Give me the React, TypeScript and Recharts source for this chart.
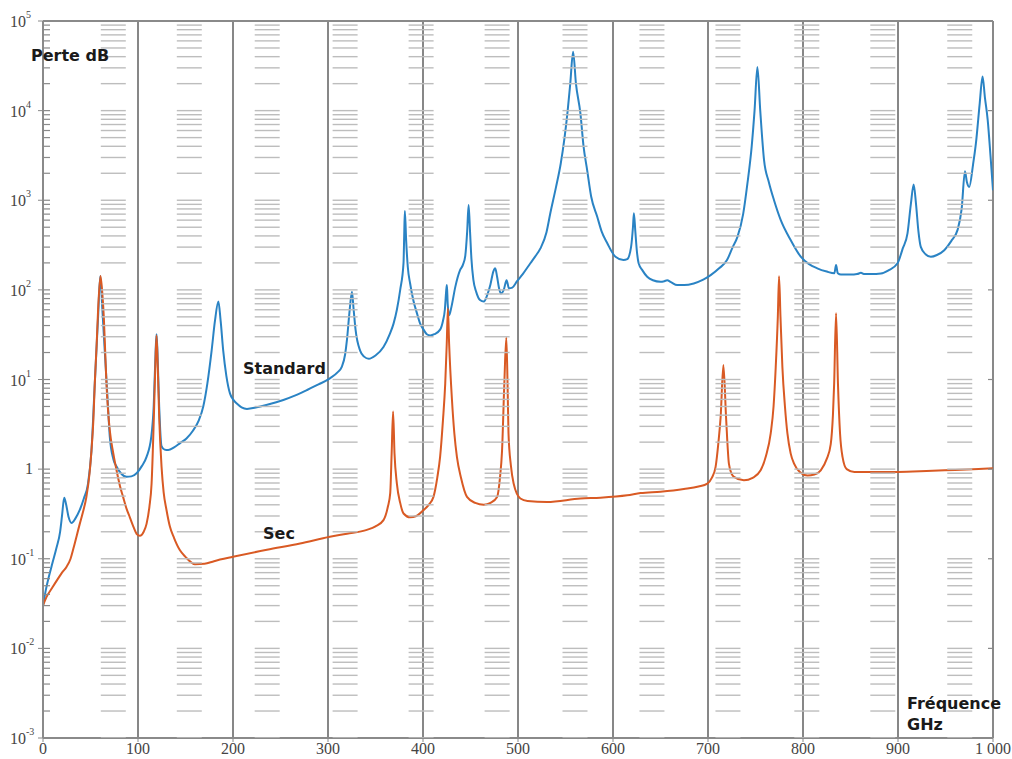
import React from 'react';
import {
  ComposedChart,
  Line,
  Scatter,
  XAxis,
  YAxis,
  CartesianGrid,
  ReferenceLine,
} from 'recharts';

// Frequency (GHz) / attenuation (dB) pairs — standard atmosphere
const standardPoints: [number, number][] = [
  [0, 0.03], [3, 0.045], [6, 0.062], [10, 0.09], [14, 0.13], [18, 0.2], [20, 0.3],
  [22.3, 0.48], [24, 0.42], [27, 0.29], [30, 0.25], [34, 0.28], [38.7, 0.35], [43, 0.47],
  [47.4, 0.69], [51, 1.6], [54.5, 9], [58, 50], [60.3, 143], [62.5, 60], [65, 21],
  [68, 6], [70.3, 2.3], [74, 1.3], [77.4, 1.07], [82, 0.9], [88, 0.82], [93, 0.83],
  [98.5, 0.9], [104, 1.08], [109, 1.37], [114, 2.3], [116.5, 5], [118.5, 20], [119.5, 32],
  [120.5, 20], [122.3, 5], [124.8, 1.8], [128, 1.65], [131.8, 1.63], [138, 1.75],
  [144, 1.94], [151, 2.2], [158, 2.7], [164, 3.5], [168.7, 5], [173, 9], [177.5, 21],
  [181, 45], [184.6, 74], [187, 45], [189.7, 21], [193, 11], [196.8, 7], [200, 6],
  [204, 5.4], [209, 4.9], [214.7, 4.7], [225, 4.9], [235, 5.2], [253, 5.9], [265, 6.6],
  [277.6, 7.6], [290, 8.8], [302, 10.3], [310, 12], [314.5, 13.8], [318, 19], [320, 28],
  [322.5, 55], [325.2, 95], [327, 60], [329, 36], [333.8, 21], [338, 18], [343, 17],
  [350, 18.5], [358.4, 23], [365, 32], [369, 42], [372.5, 60], [376, 100], [379.5, 200],
  [380.2, 400], [380.9, 760], [382.3, 350], [384, 180], [386.5, 117], [390, 75],
  [393.6, 55], [397, 42], [400.6, 36], [404, 32], [407.6, 31], [412, 32], [418, 36],
  [421, 45], [423, 60], [424.5, 100], [425.2, 113], [426, 70], [427.5, 52], [430, 65],
  [434, 108], [439, 166], [442, 190], [444.5, 240], [446.5, 450], [448, 885],
  [449.5, 450], [451, 220], [453, 130], [456, 95], [460, 77], [464, 74], [468, 90],
  [471, 115], [474, 160], [476, 174], [478, 140], [480, 105], [482, 91], [485, 100],
  [488, 128], [490.5, 104], [494, 106], [499, 125], [505, 150], [513, 198], [518, 235],
  [523.6, 290], [530, 440], [534, 715], [540, 1400], [545, 2570], [549, 5000],
  [552, 9300], [555, 20000], [558, 45400], [561, 20000], [565.7, 9300], [569, 4000],
  [572.8, 2170], [577, 1100], [583.4, 655], [588, 450], [594, 331], [602.6, 234],
  [611, 215], [615, 220], [619, 300], [621, 500], [622, 714], [623.5, 450], [625, 280],
  [627, 198], [631, 165], [636, 140], [642, 128], [650, 123], [654, 125], [657, 128],
  [661, 122], [667.6, 113], [675, 113], [685, 118], [695, 130], [702.8, 146], [712, 175],
  [720, 215], [726, 300], [731, 390], [737, 700], [741.5, 1540], [746, 4000],
  [749, 10000], [752, 30700], [755, 10000], [759, 2800], [764, 1600], [769.5, 1000],
  [776.6, 600], [787, 360], [797.6, 235], [806, 195], [815, 174], [825, 160], [833, 153],
  [834.8, 190], [836.6, 153], [840, 148], [850, 148], [857, 150], [861, 155], [864, 150],
  [872, 150], [882, 152], [890, 165], [899.5, 198], [905, 290], [910, 427], [913.5, 900],
  [916.5, 1500], [919, 900], [921.5, 450], [924, 302], [929, 250], [934.6, 234],
  [941, 245], [948.7, 277], [956, 350], [962.8, 470], [967, 800], [970.5, 2100],
  [972.5, 1600], [975, 1410], [979, 2500], [982, 4300], [986, 12000], [989, 24000],
  [991.5, 14000], [994.4, 7900], [997.5, 3000], [1000, 1290],
];

// Frequency (GHz) / attenuation (dB) pairs — dry air
const dryPoints: [number, number][] = [
  [0, 0.03], [3.5, 0.037], [10, 0.048], [15.8, 0.06], [20, 0.07], [24.7, 0.081],
  [29, 0.1], [32, 0.13], [38.7, 0.245], [42, 0.33], [45.7, 0.49], [49, 0.9], [51, 1.6],
  [53, 3.5], [54.5, 9], [56.5, 25], [58, 60], [60.5, 143], [62.5, 90], [64, 50],
  [65.5, 20], [66.8, 9], [68.5, 4.5], [70.3, 2.7], [74, 1.5], [77.4, 0.97], [81, 0.65],
  [84.3, 0.49], [88, 0.36], [91.4, 0.29], [95, 0.23], [98.5, 0.19], [102, 0.18],
  [106, 0.2], [109, 0.245], [112, 0.38], [114.3, 0.69], [116.7, 3.8], [118.3, 15],
  [119.5, 31], [120.7, 15], [122.3, 3.8], [124.8, 1.06], [127, 0.55], [130, 0.35],
  [133.5, 0.23], [138, 0.17], [144, 0.125], [150, 0.105], [160, 0.087], [170, 0.088],
  [180, 0.094], [200, 0.105], [235.7, 0.126], [270.6, 0.148], [302, 0.176], [320, 0.19],
  [340.9, 0.21], [350, 0.23], [358.4, 0.27], [363, 0.38], [365.5, 0.54], [367, 1.5],
  [368.5, 4.4], [370, 1.5], [372.5, 0.69], [376, 0.42], [379.5, 0.32], [386.5, 0.29],
  [393, 0.3], [400.6, 0.35], [406, 0.4], [411, 0.49], [415, 0.8], [418, 1.37],
  [421, 3.5], [423.4, 9], [425, 25], [426.2, 62], [427.5, 25], [430.5, 5.9], [433, 2.5],
  [435.7, 1.37], [440, 0.8], [446.3, 0.49], [455, 0.42], [464, 0.4], [471, 0.42],
  [478, 0.49], [481, 0.8], [483.2, 1.6], [485.6, 9], [487.7, 29.5], [489, 9],
  [490, 2.5], [492.5, 1.1], [495.4, 0.69], [502.5, 0.47], [510, 0.44], [530.6, 0.43],
  [565.7, 0.47], [586.8, 0.48], [615, 0.51], [629, 0.54], [650, 0.56], [674.6, 0.6],
  [690, 0.64], [699.3, 0.69], [704, 0.8], [708, 1.06], [711, 2], [713.3, 3.8],
  [716.2, 14.5], [719, 3.8], [722, 1.15], [725, 0.88], [727.3, 0.82], [737.8, 0.75],
  [747, 0.8], [755.4, 0.97], [761, 1.4], [766, 2.5], [769, 5], [771.3, 13.8],
  [773.5, 50], [774.8, 142], [776.3, 50], [778.3, 13.8], [781, 5], [783.6, 2.5],
  [787, 1.5], [790.6, 1.15], [797, 0.92], [804.7, 0.85], [812, 0.87], [818.7, 0.97],
  [825, 1.3], [829.2, 1.9], [831.5, 4], [832.8, 9], [834.8, 55], [836.8, 9], [839, 2.5],
  [841.6, 1.37], [846, 1.0], [854, 0.93], [870, 0.93], [899.5, 0.93], [930, 0.95],
  [960, 0.98], [1000, 1.02],
];

const xTicks = [0, 100, 200, 300, 400, 500, 600, 700, 800, 900, 1000];
const decadeTicks = [1e-3, 1e-2, 1e-1, 1, 1e1, 1e2, 1e3, 1e4, 1e5];
const mantissas = [1, 2, 3, 4, 5, 6, 7, 8, 9];
// Centres (GHz) of the columns of short minor-grid dashes
const dashColumns = [74, 154, 236, 318, 398, 478, 560, 641, 721, 804, 884, 965];

const standardData = standardPoints.map(([x, y]) => ({ x, y }));
const dryData = dryPoints.map(([x, y]) => ({ x, y }));

const minorValues = decadeTicks.slice(0, -1).flatMap((d) => mantissas.map((m) => m * d));
const dashData = dashColumns.flatMap((c) => minorValues.map((y) => ({ x: c, y })));
const leftMinorData = minorValues.map((y) => ({ x: 0, y }));
const rightTickData = decadeTicks.map((y) => ({ x: 1000, y }));

const BLUE = '#2a83c4';
const ORANGE = '#d95a24';
const AXIS = '#8a8a8a';
const SERIF = '"Liberation Serif", "DejaVu Serif", serif';
const SANS = '"DejaVu Sans", sans-serif';

const DashShape = (p: any) => (
  <line x1={p.cx - 12.5} x2={p.cx + 12.5} y1={p.cy} y2={p.cy} stroke="#bdbdbd" strokeWidth={1.4} />
);
const LeftMinorShape = (p: any) => (
  <line x1={p.cx} x2={p.cx + 7} y1={p.cy} y2={p.cy} stroke={AXIS} strokeWidth={1.2} />
);
const RightTickShape = (p: any) => (
  <line x1={p.cx - 5} x2={p.cx} y1={p.cy} y2={p.cy} stroke={AXIS} strokeWidth={1.2} />
);

const tickTextStyle: React.CSSProperties = { fontFamily: SERIF, fontSize: 16, fill: '#444' };

function DecadeTick(props: any) {
  const { x, y, payload } = props;
  const e = Math.round(Math.log10(payload.value));
  if (e === 0) {
    return (
      <text x={x - 3} y={y + 5} textAnchor="end" style={tickTextStyle}>
        1
      </text>
    );
  }
  return (
    <text x={x - 26} y={y + 6} style={tickTextStyle}>
      10
      <tspan dy={-9} style={{ fontSize: 10 }}>
        {e}
      </tspan>
    </text>
  );
}

function FreqTick(props: any) {
  const { x, y, payload } = props;
  const v = payload.value as number;
  return (
    <text x={x} y={y + 12} textAnchor="middle" style={tickTextStyle}>
      {v === 1000 ? '1 000' : String(v)}
    </text>
  );
}

const labelStyle: React.CSSProperties = {
  fontFamily: SANS,
  fontWeight: 'bold',
  fontSize: 16,
  fill: '#1a1a1a',
};

export default function App() {
  return (
    <div style={{ position: 'absolute', left: 0, top: 0, width: 1012, height: 759, background: '#fff' }}>
      <ComposedChart width={1012} height={759} margin={{ top: 21, right: 19, left: 0, bottom: 0 }}>
        <CartesianGrid vertical horizontal={false} stroke="#5f5f5f" strokeWidth={1.5} />
        <XAxis
          type="number"
          dataKey="x"
          domain={[0, 1000]}
          ticks={xTicks}
          allowDataOverflow
          height={21}
          tickSize={4}
          tickMargin={0}
          stroke={AXIS}
          axisLine={{ stroke: AXIS, strokeWidth: 2 }}
          tick={<FreqTick />}
        />
        <YAxis
          type="number"
          dataKey="y"
          scale="log"
          domain={[1e-3, 1e5]}
          ticks={decadeTicks}
          allowDataOverflow
          width={43}
          tickSize={5}
          stroke={AXIS}
          axisLine={{ stroke: AXIS, strokeWidth: 2 }}
          tick={<DecadeTick />}
        />
        <ReferenceLine y={1e5} stroke={AXIS} strokeWidth={2} />
        <ReferenceLine x={1000} stroke={AXIS} strokeWidth={1.5} />
        <Scatter data={dashData} shape={DashShape} isAnimationActive={false} />
        <Scatter data={leftMinorData} shape={LeftMinorShape} isAnimationActive={false} />
        <Scatter data={rightTickData} shape={RightTickShape} isAnimationActive={false} />
        <Line
          data={standardData}
          dataKey="y"
          type="monotoneX"
          stroke={BLUE}
          strokeWidth={2}
          dot={false}
          activeDot={false}
          isAnimationActive={false}
        />
        <Line
          data={dryData}
          dataKey="y"
          type="monotoneX"
          stroke={ORANGE}
          strokeWidth={2}
          dot={false}
          activeDot={false}
          isAnimationActive={false}
        />
      </ComposedChart>
      <svg
        width={1012}
        height={759}
        style={{ position: 'absolute', left: 0, top: 0, pointerEvents: 'none' }}
      >
        <text x={31} y={61} style={labelStyle}>Perte dB</text>
        <text x={243} y={374} style={labelStyle}>Standard</text>
        <text x={263} y={539} style={labelStyle}>Sec</text>
        <text x={907} y={709} style={labelStyle}>Fréquence</text>
        <text x={907} y={730} style={labelStyle}>GHz</text>
      </svg>
    </div>
  );
}
